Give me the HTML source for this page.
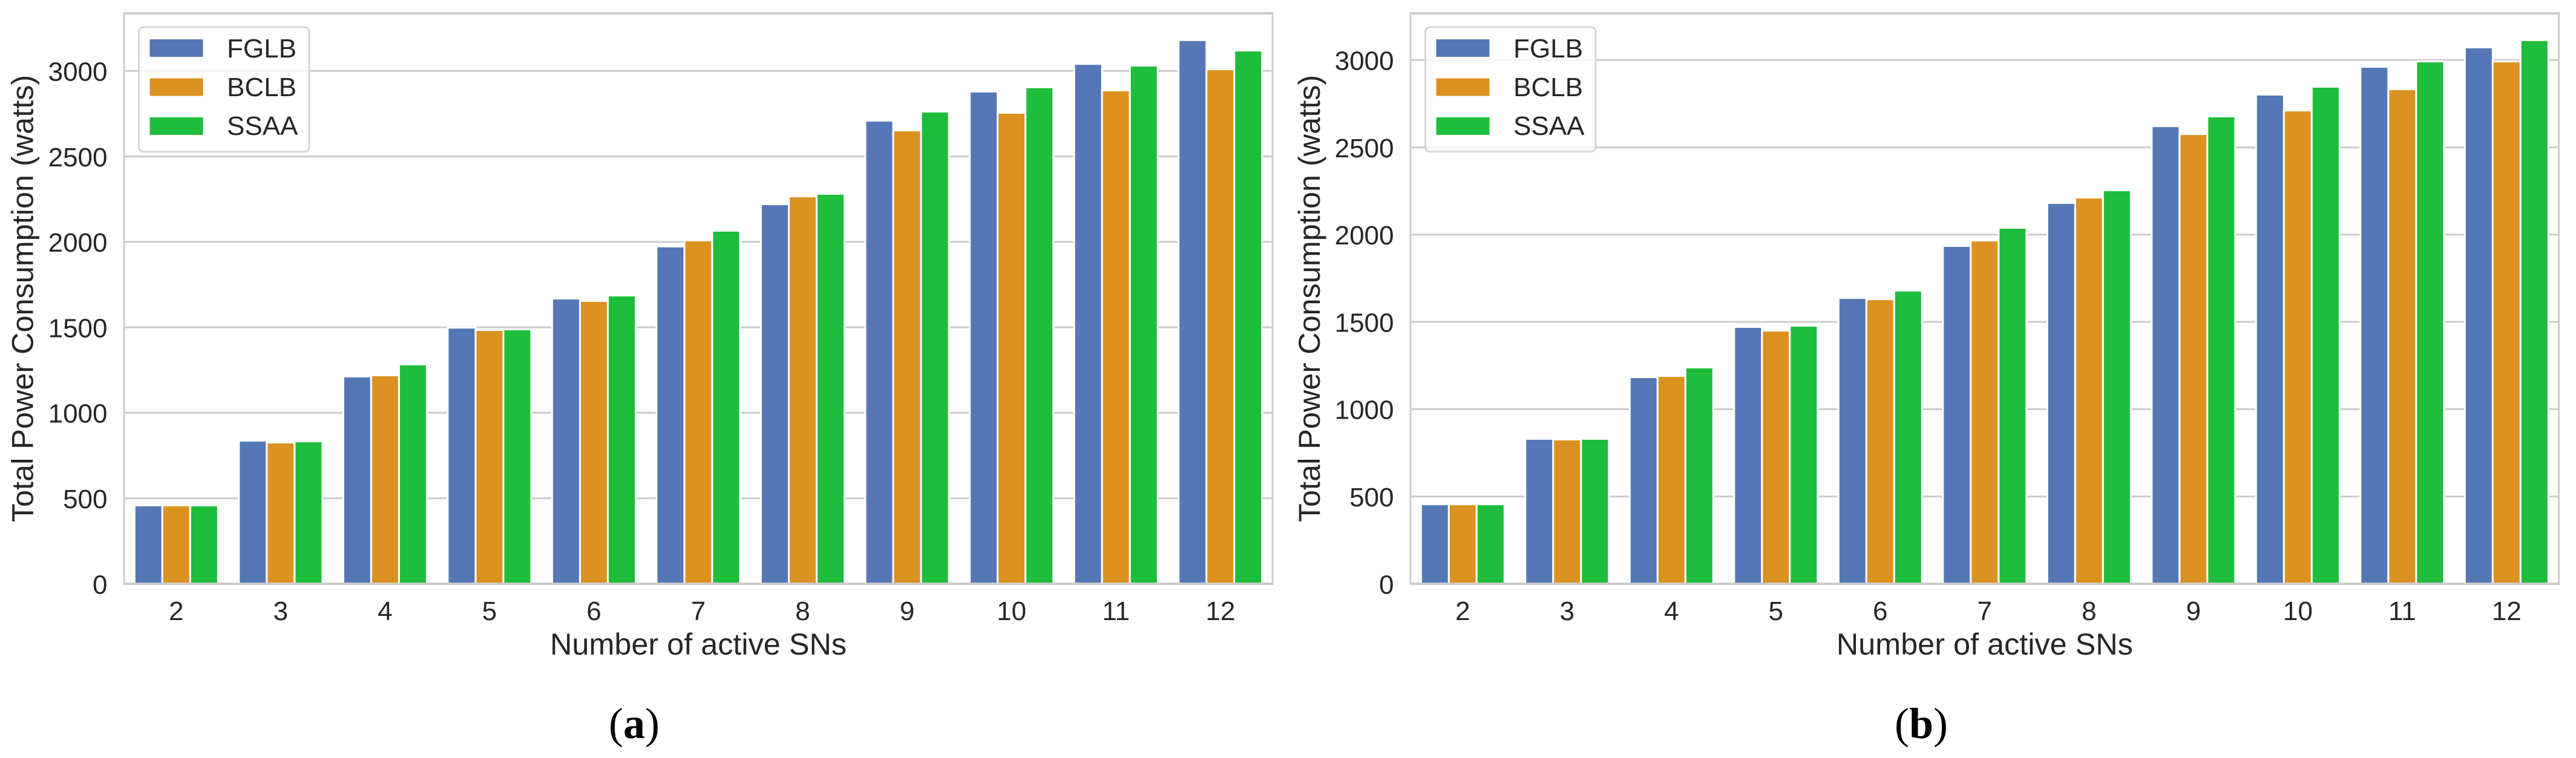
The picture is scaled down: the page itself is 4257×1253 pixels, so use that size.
<!DOCTYPE html>
<html lang="en">
<head>
<meta charset="utf-8">
<title>Total Power Consumption vs Number of active SNs</title>
<style>
html,body{margin:0;padding:0;background:#fff;width:4257px;height:1253px;overflow:hidden}
svg{display:block}
text{font-family:"Liberation Sans",Arial,sans-serif;fill:#262626}
.caption{font-family:"Liberation Serif","Times New Roman",serif;fill:#000}
</style>
</head>
<body>
<svg id="figure" xmlns="http://www.w3.org/2000/svg" width="4257" height="1253" viewBox="0 0 4257 1253"></svg>
<script>
const categories = ['2', '3', '4', '5', '6', '7', '8', '9', '10', '11', '12'];
const seriesNames = ['FGLB', 'BCLB', 'SSAA'];
const yTickLabels = [0, 500, 1000, 1500, 2000, 2500, 3000];

const fglbA = [453, 832, 1207, 1493, 1663, 1968, 2215, 2704, 2874, 3036, 3175];
const bclbA = [453, 821, 1214, 1479, 1649, 2003, 2261, 2647, 2750, 2881, 3005];
const ssaaA = [453, 828, 1278, 1483, 1681, 2060, 2276, 2757, 2899, 3026, 3114];

const fglbB = [450, 825, 1178, 1466, 1632, 1930, 2176, 2616, 2797, 2956, 3067];
const bclbB = [450, 821, 1185, 1445, 1625, 1961, 2207, 2571, 2706, 2828, 2987];
const ssaaB = [450, 825, 1234, 1473, 1674, 2034, 2249, 2672, 2842, 2987, 3109];

const seriesColors = ['#5577b5', '#dc9220', '#1ebd3b'];

const NS = 'http://www.w3.org/2000/svg';
const figure = document.getElementById('figure');

function makeEl(tag, parent, attrs, textContent) {
  const el = document.createElementNS(NS, tag);
  for (const key in attrs) el.setAttribute(key, attrs[key]);
  if (textContent !== undefined) el.textContent = textContent;
  parent.appendChild(el);
  return el;
}

function drawPanel(p, id, series) {
  const xBand = (p.right - p.left) / categories.length;
  const xCenter = i => p.left + xBand * (i + 0.5);
  const yScale = v => p.y0 - v * p.pxPerUnit;
  const barStep = xBand * 0.8 / series.length;
  const barW = barStep - 3;

  const panel = makeEl('g', figure, {});
  
  

  // gridlines
  yTickLabels.forEach(t => {
    if (t === 0) return;
    const line = makeEl('line', panel, {x1: p.left, x2: p.right, y1: yScale(t), y2: yScale(t), stroke: '#cccccc', 'stroke-width': 3});
    
    
  });

  // bars
  series.forEach((values, s) => {
    const group = makeEl('g', panel, {});
    
    
    values.forEach((v, i) => {
      const cx = xCenter(i) + (s - (series.length - 1) / 2) * barStep;
      const top = yScale(v);
      const bar = makeEl('rect', group, {
        x: cx - barW / 2, y: top, width: barW, height: p.y0 - top,
        fill: seriesColors[s], stroke: '#ffffff', 'stroke-width': 6, 'paint-order': 'stroke fill'
      });
      
      
    });
  });

  // spines
  const spineTop = makeEl('rect', panel, {x: p.left - 1.5, y: 20, width: p.right - p.left + 3, height: 4, fill: '#cccccc'});
  
  
  const spineBottom = makeEl('rect', panel, {x: p.left - 1.5, y: 963, width: p.right - p.left + 3, height: 4, fill: '#cccccc'});
  
  
  const spineLeft = makeEl('rect', panel, {x: p.left - 1.5, y: 20, width: 3, height: 947, fill: '#cccccc'});
  
  
  const spineRight = makeEl('rect', panel, {x: p.right - 1.5, y: 20, width: 3, height: 947, fill: '#cccccc'});
  
  

  // y tick labels
  yTickLabels.forEach(t => {
    const label = makeEl('text', panel, {x: p.left - 27.5, y: yScale(t) + 16.3, 'text-anchor': 'end', 'font-size': 44}, String(t));
    
    
  });

  // x tick labels
  categories.forEach((c, i) => {
    const label = makeEl('text', panel, {x: xCenter(i), y: 1025, 'text-anchor': 'middle', 'font-size': 44}, c);
    
    
  });

  // axis titles
  const xTitle = makeEl('text', panel, {x: (p.left + p.right) / 2, y: 1082, 'text-anchor': 'middle', 'font-size': 50.4}, 'Number of active SNs');
  
  
  const yTitle = makeEl('text', panel, {
    x: 0, y: 0, 'text-anchor': 'middle', 'font-size': 50.4,
    transform: 'translate(' + p.yTitleX + ',493.5) rotate(-90)'
  }, 'Total Power Consumption (watts)');
  
  

  // legend
  const legend = makeEl('g', panel, {});
  
  
  const frame = makeEl('rect', legend, {
    x: p.left + 24.5, y: 44.8, width: 281.5, height: 206, rx: 8, ry: 8,
    fill: 'rgba(255,255,255,0.8)', stroke: 'rgba(204,204,204,0.8)', 'stroke-width': 3
  });
  
  
  seriesNames.forEach((name, s) => {
    const entry = makeEl('g', legend, {});
    
    
    const swatch = makeEl('rect', entry, {x: p.left + 42.5, y: 65 + s * 64.5, width: 88, height: 29, fill: seriesColors[s]});
    
    
    const text = makeEl('text', entry, {x: p.left + 170, y: 95 + s * 64, 'font-size': 44}, name);
    
    
  });

  // caption
  const caption = makeEl('text', figure, {x: p.captionX, y: 1220, 'text-anchor': 'middle', 'font-size': 72, class: 'caption'});
  
  
  makeEl('tspan', caption, {}, '(');
  makeEl('tspan', caption, {'font-weight': 'bold'}, id);
  makeEl('tspan', caption, {}, ')');
}

drawPanel({left: 205, right: 2103, y0: 965, pxPerUnit: 847.7 / 3000, yTitleX: 54.5, captionX: 1048}, 'a', [fglbA, bclbA, ssaaA]);
drawPanel({left: 2331, right: 4228.6, y0: 965, pxPerUnit: 865.7 / 3000, yTitleX: 2181, captionX: 3175}, 'b', [fglbB, bclbB, ssaaB]);
</script>
</body>
</html>
